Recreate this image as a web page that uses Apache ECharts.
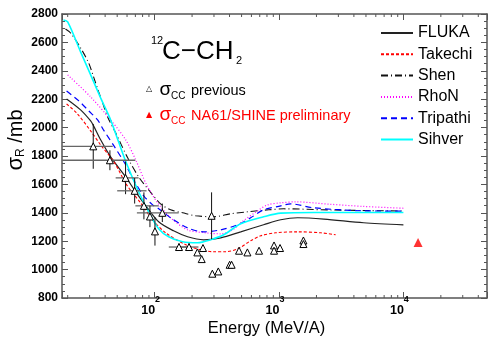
<!DOCTYPE html>
<html>
<head>
<meta charset="utf-8">
<script src="https://cdn.jsdelivr.net/npm/echarts@6/dist/echarts.min.js"></script>
<style>
html, body { margin: 0; padding: 0; background: #fff; }
#chart { width: 488px; height: 339px; }
</style>
</head>
<body>
<div id="chart"></div>
<script>
// axis ranges / ticks
const xMin = 18, xMax = 47000;
const yMin = 800, yMax = 2800, yStep = 200;
const xMajor = [100, 1000, 10000];
const xMinor = [20, 30, 40, 50, 60, 70, 80, 90, 200, 300, 400, 500, 600, 700, 800, 900,
  2000, 3000, 4000, 5000, 6000, 7000, 8000, 9000, 20000, 30000, 40000];

// model curves (E in MeV/A, sigma in mb)
const flukaE = [19.6, 25.4, 30.6, 32.3, 36.8, 44.3, 58.5, 70.4, 86.2, 107.7, 142, 184, 248, 340, 492, 752, 1032, 1410, 2296, 4781, 10000];
const flukaS = [2202, 2125, 2047, 2012, 1914, 1794, 1653, 1548, 1442, 1337, 1273, 1231, 1210, 1224, 1266, 1316, 1351, 1365, 1356, 1330, 1315];

const takechiE = [19.6, 23.6, 30.6, 36.8, 47.1, 59.6, 77.1, 96.4, 122.6, 178, 234.5, 298, 372, 466, 592, 713, 939, 1410, 2166, 2853];
const takechiS = [2166, 2103, 1977, 1878, 1759, 1597, 1470, 1351, 1259, 1175, 1140, 1126, 1126, 1147, 1203, 1238, 1259, 1266, 1259, 1245];

const shenE = [19.2, 21.1, 25.4, 29.5, 32.3, 35.5, 38.2, 41.9, 48.6, 60.7, 74.4, 89.5, 111.7, 134.5, 168, 213, 298, 409, 559, 829, 1092, 2598, 10000];
const shenS = [2694, 2666, 2561, 2455, 2357, 2251, 2174, 2075, 1963, 1787, 1653, 1562, 1463, 1421, 1400, 1379, 1372, 1393, 1407, 1421, 1428, 1420, 1412];

const rhonE = [20.0, 30.6, 44.3, 58.5, 70.4, 86.2, 105.7, 134.5, 184, 257, 340, 424, 492, 673, 810, 1032, 1360, 2598, 4781, 10000];
const rhonS = [2371, 2216, 2054, 1914, 1773, 1597, 1470, 1365, 1280, 1259, 1252, 1280, 1330, 1414, 1456, 1470, 1477, 1460, 1445, 1432];

const tripathiE = [19.6, 24.6, 29.5, 34.8, 38.8, 47.1, 58.5, 67.8, 81.6, 96.4, 105.7, 134.5, 184, 248, 340, 466, 592, 752, 1032, 1242, 1900, 4781, 10000];
const tripathiS = [2258, 2188, 2118, 2054, 1984, 1871, 1738, 1632, 1520, 1456, 1435, 1365, 1294, 1266, 1280, 1316, 1365, 1421, 1449, 1463, 1435, 1414, 1412];

const sihverE = [18.5, 20.0, 25.4, 30.6, 36.8, 44.3, 51.3, 59.6, 74.4, 89.5, 107.7, 129.6, 168, 221.6, 282, 359, 492, 752, 1032, 1902, 10000];
const sihverS = [2758, 2744, 2533, 2371, 2209, 2054, 1900, 1745, 1548, 1407, 1288, 1231, 1196, 1189, 1210, 1245, 1323, 1372, 1398, 1402, 1402];

// previous sigma_CC measurements: energy, sigma, sigma error, energy low / high (0 = none)
const prevE   = [32.1, 43.7, 58.4, 69.1, 82, 91.7, 100.6, 115.3, 157, 189, 220.6, 244.7, 239, 287, 291, 325, 401, 416, 477, 557, 691, 912, 912, 1019, 1571, 1571];
const prevS   = [1868, 1770, 1646, 1555, 1449, 1374, 1269, 1400, 1159, 1159, 1121, 1152, 1074, 1379, 971, 987, 1034, 1034, 1133, 1121, 1133, 1170, 1133, 1152, 1205, 1180];
const prevErr = [158, 70, 115, 90, 95, 75, 100, 65, 25, 25, 0, 0, 0, 165, 0, 0, 0, 0, 0, 0, 0, 0, 0, 0, 0, 0];
const prevLo  = [18, 18, 48.6, 50, 70, 0, 0, 72, 130, 160, 0, 0, 0, 0, 0, 0, 0, 0, 0, 0, 0, 0, 0, 0, 0, 0];
const prevHi  = [46, 70, 74.4, 86, 108, 0, 0, 156, 190, 225, 0, 0, 0, 0, 0, 0, 0, 0, 0, 0, 0, 0, 0, 0, 0, 0];

// NA61/SHINE preliminary
const naE = [13120];
const naS = [1191];

const FONT = 'Liberation Sans, Arial, Helvetica, sans-serif';
const AXIS_COLOR = '#555';

function pairs(xs, ys) {
  return xs.map((x, i) => [x, ys[i]]);
}

function curve(name, xs, ys, color, type, width) {
  return {
    name: name,
    type: 'line',
    data: pairs(xs, ys),
    symbol: 'none',
    smooth: 0.3,
    lineStyle: { color: color, type: type, width: width },
    itemStyle: { color: color },
    silent: true,
    z: 3
  };
}

const chart = echarts.init(document.getElementById('chart'));

const xAxisBase = {
  type: 'log',
  logBase: 10,
  min: xMin,
  max: xMax,
  axisLine: { show: true, onZero: false, lineStyle: { color: AXIS_COLOR, width: 1.5 } },
  axisTick: { show: true, inside: true, length: 6, lineStyle: { color: AXIS_COLOR, width: 1 } },
  splitLine: { show: false }
};
const yAxisBase = {
  type: 'value',
  min: yMin,
  max: yMax,
  interval: yStep,
  axisLine: { show: true, onZero: false, lineStyle: { color: AXIS_COLOR, width: 1.5 } },
  axisTick: { show: true, inside: true, length: 6, lineStyle: { color: AXIS_COLOR, width: 1 } },
  minorTick: { show: true, splitNumber: 4, length: 3, lineStyle: { color: AXIS_COLOR, width: 1 } },
  splitLine: { show: false }
};

const option = {
  animation: false,
  backgroundColor: '#fff',
  grid: { left: 62, top: 14, right: 1, bottom: 41, outerBoundsMode: 'none' },
  legend: {
    orient: 'vertical',
    left: 375,
    top: 20,
    itemWidth: 32,
    itemHeight: 12,
    itemGap: 5.3,
    data: ['FLUKA', 'Takechi', 'Shen', 'RhoN', 'Tripathi', 'Sihver'],
    itemStyle: { opacity: 0 },
    textStyle: { fontFamily: FONT, fontSize: 16, color: '#000' },
    selectedMode: false
  },
  xAxis: [
    Object.assign({}, xAxisBase, {
      position: 'bottom',
      axisLabel: {
        margin: -2.5,
        color: '#000',
        fontFamily: FONT,
        formatter: function (v) {
          const k = xMajor.findIndex(t => Math.abs(t - v) / t < 1e-6);
          if (k < 0) return '';
          return '{b|10}{s|' + Math.round(Math.log10(xMajor[k])) + '}';
        },
        rich: {
          b: { fontSize: 12.5, fontWeight: 'bold', fontFamily: FONT, color: '#000' },
          s: { fontSize: 9, fontWeight: 'bold', fontFamily: FONT, color: '#000', padding: [0, 8, 21, 0] }
        }
      }
    }),
    Object.assign({}, xAxisBase, { position: 'top', axisLabel: { show: false } })
  ],
  yAxis: [
    Object.assign({}, yAxisBase, {
      position: 'left',
      axisLabel: {
        margin: 4, color: '#000', fontFamily: FONT, fontSize: 12, fontWeight: 'bold',
        formatter: function (v) { return String(v); }
      }
    }),
    Object.assign({}, yAxisBase, { position: 'right', axisLabel: { show: false } })
  ],
  series: [
    // minor ticks of the log axes (bottom and top)
    {
      type: 'custom',
      silent: true,
      clip: false,
      z: 2,
      data: xMinor.map(v => [v, yMin]),
      encode: { x: 0, y: 1 },
      renderItem: function (params, api) {
        const b = api.coord([api.value(0), yMin]);
        const t = api.coord([api.value(0), yMax]);
        const st = { stroke: AXIS_COLOR, lineWidth: 1 };
        return {
          type: 'group',
          children: [
            { type: 'line', shape: { x1: b[0], y1: b[1], x2: b[0], y2: b[1] - 3 }, style: st },
            { type: 'line', shape: { x1: t[0], y1: t[1], x2: t[0], y2: t[1] + 3 }, style: st }
          ]
        };
      }
    },
    curve('FLUKA', flukaE, flukaS, '#222', 'solid', 1.2),
    curve('Takechi', takechiE, takechiS, '#ff0000', [3, 2], 1.1),
    curve('Shen', shenE, shenS, '#111', [7, 3, 1, 3], 1.1),
    curve('RhoN', rhonE, rhonS, '#ff00ff', [1, 2], 1.2),
    curve('Tripathi', tripathiE, tripathiS, '#0000ff', [6, 4], 1.2),
    curve('Sihver', sihverE, sihverS, '#00ffff', 'solid', 1.6),
    // error bars of previous data
    {
      type: 'custom',
      silent: true,
      clip: true,
      z: 4,
      data: prevE.map((e, i) => [e, prevS[i], prevErr[i], prevLo[i], prevHi[i]]),
      encode: { x: 0, y: 1 },
      renderItem: function (params, api) {
        const e = api.value(0), s = api.value(1), d = api.value(2), lo = api.value(3), hi = api.value(4);
        const kids = [];
        if (d > 0) {
          const a = api.coord([e, s - d]), b = api.coord([e, s + d]);
          kids.push({ type: 'line', shape: { x1: a[0], y1: a[1], x2: b[0], y2: b[1] }, style: { stroke: '#111', lineWidth: 1 } });
        }
        if (hi > lo && lo > 0) {
          const a = api.coord([lo, s]), b = api.coord([hi, s]);
          kids.push({ type: 'line', shape: { x1: a[0], y1: a[1], x2: b[0], y2: b[1] }, style: { stroke: '#666', lineWidth: 1.3 } });
        }
        return { type: 'group', children: kids };
      }
    },
    {
      name: 'previous',
      type: 'scatter',
      data: pairs(prevE, prevS),
      symbol: 'triangle',
      symbolSize: 7,
      itemStyle: { color: '#fff', borderColor: '#000', borderWidth: 1, opacity: 1 },
      silent: true,
      z: 6
    },
    {
      name: 'NA61',
      type: 'scatter',
      data: pairs(naE, naS),
      symbol: 'triangle',
      symbolSize: 9,
      itemStyle: { color: '#ff0000' },
      silent: true,
      z: 6
    }
  ],
  graphic: [
    // reaction title
    { type: 'text', x: 151, y: 41, style: { text: '12', fontFamily: FONT, fontSize: 11, fill: '#000', verticalAlign: 'middle' } },
    { type: 'text', x: 162, y: 51.5, style: { text: 'C\u2212CH', fontFamily: FONT, fontSize: 26, fill: '#000', verticalAlign: 'middle' } },
    { type: 'text', x: 236, y: 61, style: { text: '2', fontFamily: FONT, fontSize: 11, fill: '#000', verticalAlign: 'middle' } },
    // data legend
    { type: 'text', x: 149, y: 89, style: { text: '\u25B3', fontFamily: 'DejaVu Sans', fontSize: 8, fill: '#000', align: 'center', verticalAlign: 'middle' } },
    { type: 'text', x: 159.5, y: 89.5, style: { text: '\u03C3', fontFamily: FONT, fontSize: 19, fill: '#000', verticalAlign: 'middle' } },
    { type: 'text', x: 171, y: 96.5, style: { text: 'CC', fontFamily: FONT, fontSize: 10, fill: '#000', verticalAlign: 'middle' } },
    { type: 'text', x: 191, y: 91.2, style: { text: 'previous', fontFamily: FONT, fontSize: 14.5, fill: '#000', verticalAlign: 'middle' } },
    { type: 'text', x: 149, y: 114.5, style: { text: '\u25B2', fontFamily: 'DejaVu Sans', fontSize: 8, fill: '#ff0000', align: 'center', verticalAlign: 'middle' } },
    { type: 'text', x: 159.5, y: 114.5, style: { text: '\u03C3', fontFamily: FONT, fontSize: 19, fill: '#ff0000', verticalAlign: 'middle' } },
    { type: 'text', x: 171, y: 121.5, style: { text: 'CC', fontFamily: FONT, fontSize: 10, fill: '#ff0000', verticalAlign: 'middle' } },
    { type: 'text', x: 191, y: 115.9, style: { text: 'NA61/SHINE preliminary', fontFamily: FONT, fontSize: 14.5, fill: '#ff0000', verticalAlign: 'middle' } },
    // axis titles
    {
      type: 'text', x: 16, y: 140, rotation: Math.PI / 2,
      style: {
        text: '{g|\u03C3}{r|R}{t| /mb}',
        align: 'center', verticalAlign: 'middle',
        rich: {
          g: { fontFamily: FONT, fontSize: 22, fill: '#000', color: '#000' },
          r: { fontFamily: FONT, fontSize: 12, fill: '#000', color: '#000', padding: [10, 0, 0, 0] },
          t: { fontFamily: FONT, fontSize: 20, fill: '#000', color: '#000' }
        }
      }
    },
    { type: 'text', x: 266.5, y: 328, style: { text: 'Energy (MeV/A)', fontFamily: FONT, fontSize: 16.5, fill: '#000', align: 'center', verticalAlign: 'middle' } }
  ]
};

chart.setOption(option);
</script>
</body>
</html>
